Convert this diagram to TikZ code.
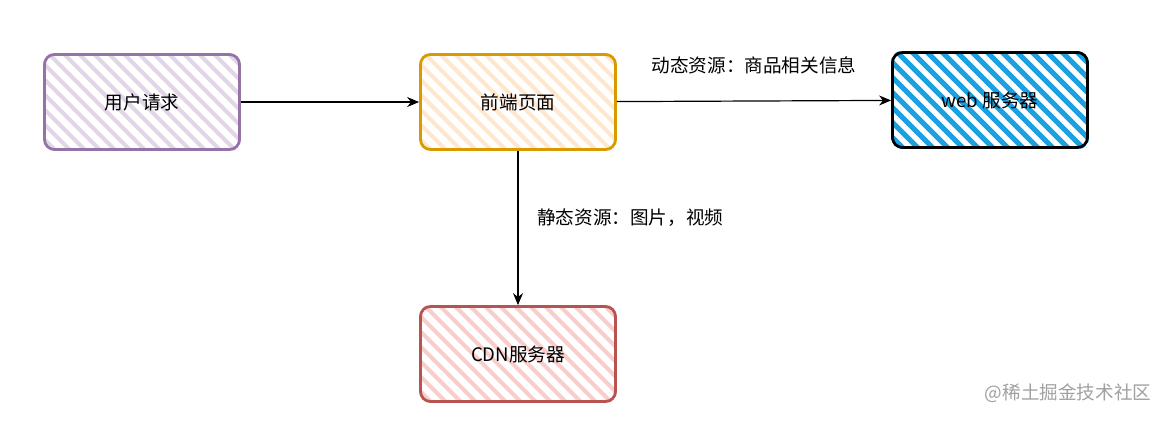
\documentclass[tikz,border=0pt]{standalone}
\usepackage{fontspec}
\setmainfont{Noto Sans CJK SC}
\usepackage{tikz}
\usetikzlibrary{arrows.meta,positioning,calc,backgrounds}

\definecolor{userline}{HTML}{9673A6}
\definecolor{userfill}{HTML}{E1D5E7}
\definecolor{pageline}{HTML}{D79B00}
\definecolor{pagefill}{HTML}{FFE6CC}
\definecolor{cdnline}{HTML}{B85450}
\definecolor{cdnfill}{HTML}{F8CECC}
\definecolor{webfill}{HTML}{1BA1E2}
\definecolor{markgray}{HTML}{A0A0A0}

\tikzset{
  box/.style={draw, line width=1.4pt, rounded corners=5pt, minimum width=97.5pt, minimum height=47.5pt, font=\fontsize{9.3}{11}\selectfont},
  flow/.style={-{Stealth[length=6pt,width=5pt]}, line width=0.6pt},
  note/.style={font=\fontsize{9.3}{11}\selectfont}
}

% hatch fill behind a box: node, colour, stripe width
\newcommand{\hatchbox}[3]{%
  \begin{pgfonlayer}{background}
  \begin{scope}
    \clip[rounded corners=5pt] (#1.north west) rectangle (#1.south east);
    \foreach \s in {-105,-90,...,210}
      \draw[#2, line width=#3] ($(#1.north west)+(\s,-5)$) -- ++(110,110);
  \end{scope}
  \end{pgfonlayer}}

\begin{document}
\begin{tikzpicture}[x=0.5pt, y=-0.5pt]
\useasboundingbox (0,0) rectangle (1174,420);

\node[box, userline, text=black] (user) at (142,102) {用户请求};
\node[box, pageline, text=black] (page) at (518,102) {前端页面};
\node[box, black] (web) at (990,100) {web 服务器};
\node[box, cdnline, text=black] (cdn) at (518,354) {CDN服务器};

\hatchbox{user}{userfill}{2pt}
\hatchbox{page}{pagefill}{2pt}
\hatchbox{web}{webfill}{2.6pt}
\hatchbox{cdn}{cdnfill}{2pt}

\path[flow]
(user) edge (page)
(page) edge node[note, above=10pt] {动态资源：商品相关信息} (web)
(page) edge node[note, right=6pt, pos=0.43] {静态资源：图片，视频} (cdn)
;

\node[note, markgray] (mark) at (1068,393) {@稀土掘金技术社区};
\end{tikzpicture}
\end{document}
